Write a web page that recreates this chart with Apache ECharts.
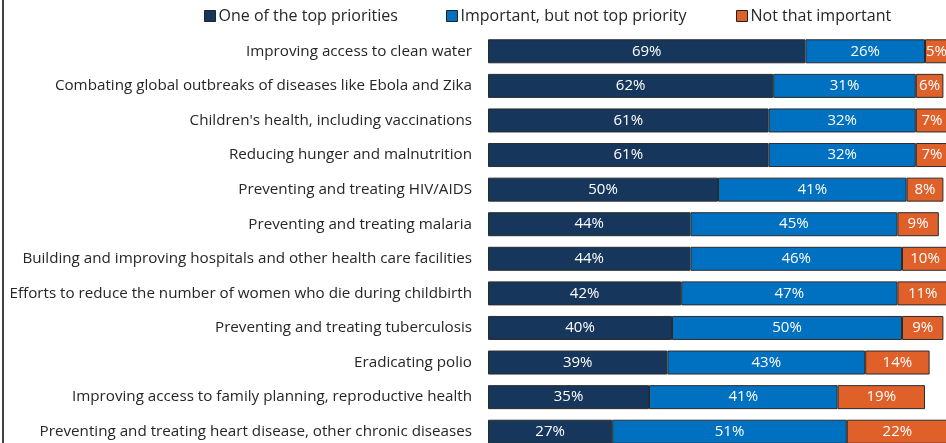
<!DOCTYPE html>
<html><head><meta charset="utf-8">
<script src="https://cdn.jsdelivr.net/npm/echarts@6/dist/echarts.min.js"></script>
<style>html,body{margin:0;padding:0;background:#fff}#c{width:946px;height:443px}</style>
</head><body><div id="c"></div>
<script>
const categories = [
  "Improving access to clean water",
  "Combating global outbreaks of diseases like Ebola and Zika",
  "Children's health, including vaccinations",
  "Reducing hunger and malnutrition",
  "Preventing and treating HIV/AIDS",
  "Preventing and treating malaria",
  "Building and improving hospitals and other health care facilities",
  "Efforts to reduce the number of women who die during childbirth",
  "Preventing and treating tuberculosis",
  "Eradicating polio",
  "Improving access to family planning, reproductive health",
  "Preventing and treating heart disease, other chronic diseases"
];
const seriesNames = ["One of the top priorities", "Important, but not top priority", "Not that important"];
const topPriority = [69, 62, 61, 61, 50, 44, 44, 42, 40, 39, 35, 27];
const important   = [26, 31, 32, 32, 41, 45, 46, 47, 50, 43, 41, 51];
const notImportant= [5, 6, 7, 7, 8, 9, 10, 11, 9, 14, 19, 22];
const colors = ["#16365C", "#0070C0", "#E0602A"];
const FONT = "Open Sans";

const values = [topPriority, important, notImportant];
const legendLeft = [199, 441, 731];
const chart = echarts.init(document.getElementById('c'), null, {renderer: 'canvas'});
chart.setOption({
  animation: false,
  textStyle: {fontFamily: FONT},
  graphic: [{type: 'rect', shape: {x: 2, y: 0, width: 2, height: 443}, style: {fill: '#404040'}}],
  legend: seriesNames.map((n, i) => ({
    left: legendLeft[i], top: 3, itemWidth: 11, itemHeight: 11, icon: 'rect',
    textStyle: {fontFamily: FONT, fontSize: 16, color: '#262626', padding: [0, 0, 0, -2]},
    data: [{name: n, itemStyle: {color: colors[i], borderColor: '#222', borderWidth: 1}}]
  })),
  grid: {left: 488, width: 460, top: 34, height: 415, outerBoundsMode: 'none', containLabel: false},
  xAxis: {type: 'value', min: 0, max: 100, show: false},
  yAxis: {
    type: 'category', inverse: true, data: categories,
    axisLine: {show: false}, axisTick: {show: false},
    axisLabel: {fontFamily: FONT, fontSize: 15.2, color: '#262626', margin: 16}
  },
  series: seriesNames.map((n, i) => ({
    name: n, type: 'bar', stack: 'all', barWidth: 24,
    data: values[i],
    itemStyle: {color: colors[i], borderColor: '#2b2b2b', borderWidth: 1},
    label: {show: true, position: 'inside', formatter: '{c}%', color: '#fff', fontFamily: FONT, fontSize: 15}
  }))
});
</script></body></html>
